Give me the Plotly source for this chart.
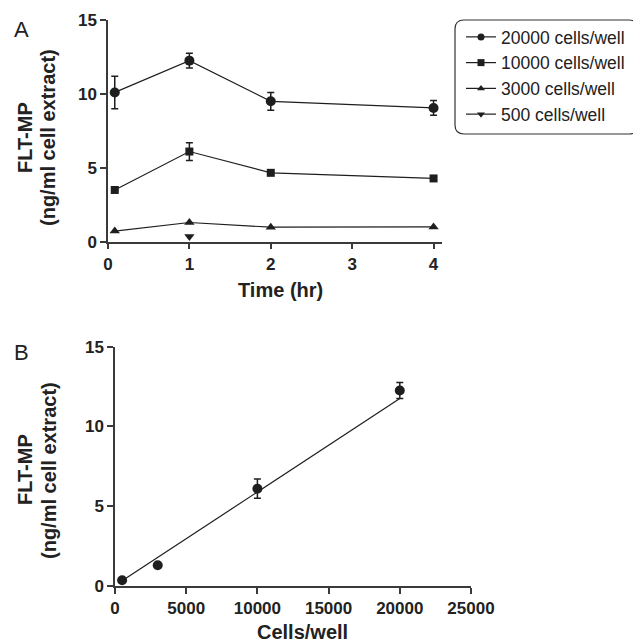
import plotly.graph_objects as go

# page body has an 8px margin: the figure is drawn from (8, 8)
OFF = 8
W, H = 641 - OFF, 644 - OFF

# ---------------- data ----------------
time_hr = [0.083, 1, 2, 4]
series_names = ["20000 cells/well", "10000 cells/well", "3000 cells/well", "500 cells/well"]
y_20000 = [10.1, 12.25, 9.5, 9.05]
e_20000 = [1.1, 0.5, 0.6, 0.5]
y_10000 = [3.5, 6.1, 4.66, 4.28]
e_10000 = [0.0, 0.6, 0.0, 0.15]
y_3000 = [0.72, 1.3, 0.98, 1.0]
e_3000 = [0.0, 0.0, 0.0, 0.0]
time_500 = [1]
y_500 = [0.36]

cells_per_well = [500, 3000, 10000, 20000]
b_means = [0.36, 1.3, 6.1, 12.25]
b_err = [0.0, 0.0, 0.6, 0.5]
fit_slope = 0.0005856
fit_intercept = 0.037

x_ticks_a = [0, 1, 2, 3, 4]
x_ticks_b = [0, 5000, 10000, 15000, 20000, 25000]
y_ticks = [0, 5, 10, 15]

# ---------------- helpers (positions given in window pixels) ----------------
def px(x):
    return (x - OFF) / W

def py(y):
    return 1 - (y - OFF) / H

INK = "#1e1e1e"
AX = "#3a3a3a"
FONT = "Arial, Liberation Sans, sans-serif"

fig = go.Figure()

symbols = ["circle", "square", "triangle-up", "triangle-down"]
sizes = [10, 8, 9, 9]
legend_sizes = [7, 7, 7, 7]
a_y = [y_20000, y_10000, y_3000, y_500]
a_e = [e_20000, e_10000, e_3000, None]
a_x = [time_hr, time_hr, time_hr, time_500]

for i in range(4):
    err = None
    if a_e[i] is not None and any(v > 0 for v in a_e[i]):
        err = dict(type="data", array=a_e[i], visible=True, color=INK,
                   thickness=1.5, width=3.5)
    fig.add_trace(go.Scatter(
        x=a_x[i], y=a_y[i], mode="lines+markers", name=series_names[i],
        line=dict(color=INK, width=1.2),
        marker=dict(symbol=symbols[i], size=sizes[i], color=INK),
        error_y=err, xaxis="x", yaxis="y", showlegend=False, cliponaxis=False))

# legend entries (same styles, smaller symbols as in the key)
for i in range(4):
    fig.add_trace(go.Scatter(
        x=[None], y=[None], mode="lines+markers", name=series_names[i],
        line=dict(color=INK, width=1.2),
        marker=dict(symbol=symbols[i], size=legend_sizes[i], color=INK),
        xaxis="x", yaxis="y", showlegend=True))

# Panel B points
fig.add_trace(go.Scatter(
    x=cells_per_well, y=b_means, mode="markers",
    marker=dict(symbol="circle", size=10, color=INK),
    error_y=dict(type="data", array=b_err, visible=True, color=INK,
                 thickness=1.5, width=3.5),
    xaxis="x2", yaxis="y2", showlegend=False, cliponaxis=False))

# Panel B regression line
fit_x = [min(cells_per_well), max(cells_per_well)]
fit_y = [fit_slope * v + fit_intercept for v in fit_x]
fig.add_trace(go.Scatter(
    x=fit_x, y=fit_y, mode="lines", line=dict(color=INK, width=1.2),
    xaxis="x2", yaxis="y2", showlegend=False, cliponaxis=False))

axis_common = dict(
    showline=True, linecolor=AX, linewidth=1.5, ticks="outside",
    ticklen=6, tickwidth=1.5, tickcolor=AX, showgrid=False, zeroline=False,
    tickfont=dict(family=FONT, size=17, color="#222222", weight="bold"),
    mirror=False, fixedrange=True, automargin=False,
)

fig.update_layout(
    template="none",
    width=W, height=H,
    margin=dict(l=0, r=0, t=0, b=0, pad=0),
    paper_bgcolor="white", plot_bgcolor="white",
    font=dict(family=FONT, color="#222222"),
    xaxis=dict(domain=[px(108), px(441.7)], range=[0, 4.1], anchor="y",
               tickvals=x_ticks_a, **axis_common),
    yaxis=dict(domain=[py(241.7), py(20)], range=[0, 15], anchor="x",
               tickvals=y_ticks, **axis_common),
    xaxis2=dict(domain=[px(115), px(471)], range=[0, 25000], anchor="y2",
                tickvals=x_ticks_b, tickformat="d", **axis_common),
    yaxis2=dict(domain=[py(586), py(346.7)], range=[0, 15], anchor="x2",
                tickvals=y_ticks, **axis_common),
    showlegend=True,
    legend=dict(x=px(461), y=py(19), xanchor="left", yanchor="top",
                bgcolor="rgba(0,0,0,0)", borderwidth=0,
                font=dict(family=FONT, size=17.5, color="#222222"),
                traceorder="normal", itemwidth=30),
)

# rounded legend box
x0, x1 = px(455), px(638)
y0, y1 = py(134), py(20)
rx, ry = 9 / W, 9 / H
path = (f"M {x0+rx},{y1} L {x1-rx},{y1} Q {x1},{y1} {x1},{y1-ry} "
        f"L {x1},{y0+ry} Q {x1},{y0} {x1-rx},{y0} "
        f"L {x0+rx},{y0} Q {x0},{y0} {x0},{y0+ry} "
        f"L {x0},{y1-ry} Q {x0},{y1} {x0+rx},{y1} Z")
fig.add_shape(type="path", path=path, xref="paper", yref="paper",
              line=dict(color="#333333", width=1.2))

def ann(text, x, y, size, bold=True, angle=0):
    fig.add_annotation(
        text=text, x=px(x), y=py(y), xref="paper", yref="paper",
        xanchor="center", yanchor="middle", showarrow=False, textangle=angle,
        font=dict(family=FONT, size=size, color="#222222",
                  weight="bold" if bold else "normal"))

# y titles
ann("FLT-MP", 25, 138, 20, angle=-90)
ann("(ng/ml cell extract)", 48, 138, 20, angle=-90)
ann("FLT-MP", 25, 470, 20, angle=-90)
ann("(ng/ml cell extract)", 49, 470, 20, angle=-90)
# x titles
ann("Time (hr)", 280, 290, 20)
ann("Cells/well", 302, 632, 20)
# panel letters
ann("A", 21, 29, 22, bold=False)
ann("B", 21, 352, 22, bold=False)

fig.write_html("out.html")
